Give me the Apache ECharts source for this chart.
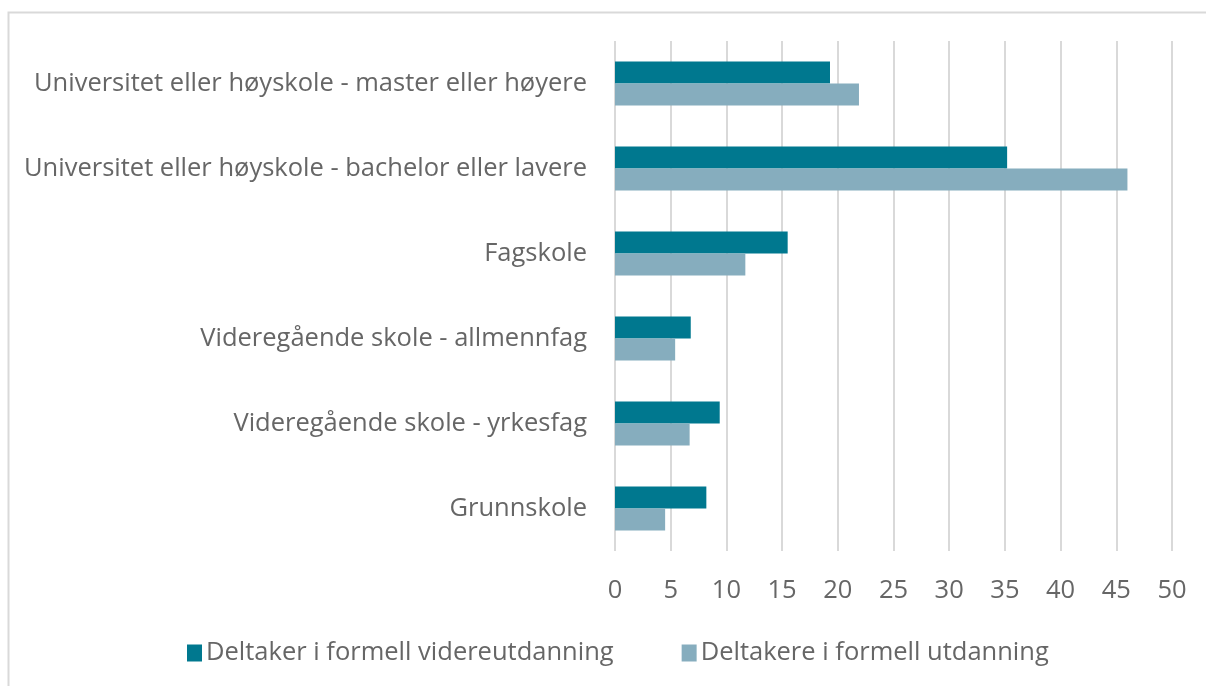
<!DOCTYPE html>
<html>
<head>
<meta charset="utf-8">
<script src="https://cdn.jsdelivr.net/npm/echarts@6/dist/echarts.min.js"></script>
<style>
  html, body { margin: 0; padding: 0; background: #fff; }
  #chart { width: 1206px; height: 686px; }
</style>
</head>
<body>
<div id="chart"></div>
<script>
// categories bottom -> top (category axis on y starts at bottom)
const categories = [
  "Grunnskole",
  "Videregående skole - yrkesfag",
  "Videregående skole - allmennfag",
  "Fagskole",
  "Universitet eller høyskole - bachelor eller lavere",
  "Universitet eller høyskole - master eller høyere"
];
const seriesNames = ["Deltaker i formell videreutdanning", "Deltakere i formell utdanning"];
const videreutdanning = [8.2, 9.4, 6.8, 15.5, 35.2, 19.3];
const utdanning = [4.5, 6.7, 5.4, 11.7, 46.0, 21.9];
const xTicks = { min: 0, max: 50, interval: 5 };

const FONT = "Open Sans";
const TEXT = "#666666";
const FS = 25.5;

const chart = echarts.init(document.getElementById("chart"));
chart.setOption({
  backgroundColor: "#fff",
  animation: false,
  textStyle: { fontFamily: FONT },
  graphic: [{
    type: "rect",
    shape: { x: 8.5, y: 12.5, width: 1400, height: 900 },
    style: { fill: "none", stroke: "#d9d9d9", lineWidth: 2 },
    silent: true
  }],
  grid: { left: 615, right: 34, top: 41, bottom: 135, containLabel: false },
  legend: {
    bottom: 15,
    left: 182,
    itemWidth: 15,
    itemHeight: 17,
    itemGap: 68,
    icon: "rect",
    textStyle: { color: TEXT, fontSize: FS, fontFamily: FONT, padding: [0, 0, 0, -1] },
    data: seriesNames
  },
  xAxis: {
    type: "value",
    min: xTicks.min,
    max: xTicks.max,
    interval: xTicks.interval,
    axisLine: { show: false },
    axisTick: { show: false },
    axisLabel: { color: TEXT, fontSize: FS, fontFamily: FONT, margin: 27 },
    splitLine: { lineStyle: { color: "#d9d9d9", width: 2 } }
  },
  yAxis: {
    type: "category",
    data: categories,
    axisLine: { show: false },
    axisTick: { show: false },
    axisLabel: { color: TEXT, fontSize: FS, fontFamily: FONT, margin: 28 }
  },
  series: [
    {
      name: seriesNames[0],
      type: "bar",
      data: videreutdanning,
      barWidth: 22,
      barGap: "0%",
      itemStyle: { color: "#00788f" }
    },
    {
      name: seriesNames[1],
      type: "bar",
      data: utdanning,
      barWidth: 22,
      barGap: "0%",
      itemStyle: { color: "#86adbe" }
    }
  ]
});
</script>
</body>
</html>
